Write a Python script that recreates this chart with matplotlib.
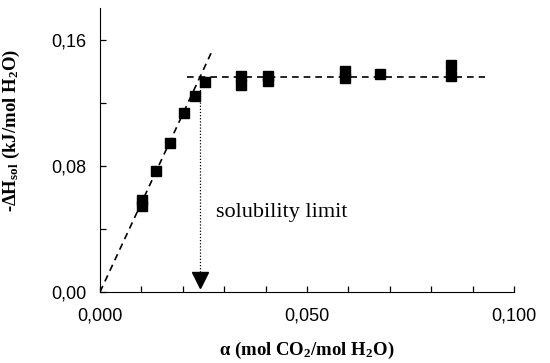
import matplotlib
matplotlib.use("Agg")
import matplotlib.pyplot as plt
from matplotlib.ticker import MultipleLocator, FuncFormatter

plt.rcParams["mathtext.fontset"] = "custom"
plt.rcParams["mathtext.rm"] = "Liberation Serif"
plt.rcParams["mathtext.bf"] = "Liberation Serif:bold"
plt.rcParams["mathtext.it"] = "Liberation Serif:italic"

# data (alpha, -dH_sol)
alpha = [0.0101, 0.0101, 0.0135, 0.0169, 0.0204, 0.0230, 0.0254,
         0.0340, 0.0340, 0.0407, 0.0407, 0.0592, 0.0592, 0.0676, 0.0847, 0.0847]
dH = [0.0584, 0.0545, 0.0768, 0.0944, 0.1135, 0.1247, 0.1333,
      0.1370, 0.1315, 0.1370, 0.1340, 0.1400, 0.1359, 0.1384, 0.1443, 0.1370]

slope_x = [0.0, 0.0270]
slope_y = [0.0, 0.1526]
plateau_x = [0.0211, 0.0930]
plateau_y = [0.1363, 0.1363]
limit_x = 0.0242
limit_top = 0.1363
limit_bottom = 0.0076

fig = plt.figure(figsize=(5.5, 3.63), dpi=100)
ax = fig.add_axes([0.1818, 0.1956, 0.7527, 0.781])

ax.plot(slope_x, slope_y, ls=(0, (4, 3)), color="black", lw=1.2)
ax.plot(plateau_x, plateau_y, ls=(0, (4, 3)), color="black", lw=1.2)
ax.plot([limit_x, limit_x], [limit_top, limit_bottom + 0.004], ls=(0, (1, 1.5)), color="black", lw=0.9)
ax.plot([limit_x], [limit_bottom], marker="v", color="black", markersize=11, ls="none")
ax.plot(alpha, dH, ls="none", marker="s", color="black", markersize=6.5)

ax.text(0.0280, 0.0505, "solubility limit", family="Liberation Serif", fontsize=16, va="center", ha="left")

ax.set_xlim(0, 0.100)
ax.set_ylim(0, 0.18)
ax.spines["top"].set_visible(False)
ax.spines["right"].set_visible(False)
ax.xaxis.set_major_locator(MultipleLocator(0.05))
ax.xaxis.set_minor_locator(MultipleLocator(0.01))
ax.yaxis.set_major_locator(MultipleLocator(0.08))
ax.yaxis.set_minor_locator(MultipleLocator(0.04))
ax.xaxis.set_major_formatter(FuncFormatter(lambda v, p: f"{v:.3f}".replace(".", ",")))
ax.yaxis.set_major_formatter(FuncFormatter(lambda v, p: f"{v:.2f}".replace(".", ",")))
ax.tick_params(which="both", direction="in", length=4.5, width=0.9, labelsize=13)
ax.tick_params(axis="x", which="both", pad=11)
ax.tick_params(axis="y", which="both", pad=10)
for lab in ax.get_xticklabels() + ax.get_yticklabels():
    lab.set_family("Liberation Sans")

ax.set_xlabel(r"α (mol CO$_\mathbf{2}$/mol H$_\mathbf{2}$O)", family="Liberation Serif",
              fontweight="bold", fontsize=13.5, labelpad=11)
ax.set_ylabel(r"-ΔH$_\mathbf{sol}$ (kJ/mol H$_\mathbf{2}$O)", family="Liberation Serif",
              fontweight="bold", fontsize=13.5)
ax.yaxis.set_label_coords(-0.188, 0.571)
fig.savefig("out.png", dpi=100)
